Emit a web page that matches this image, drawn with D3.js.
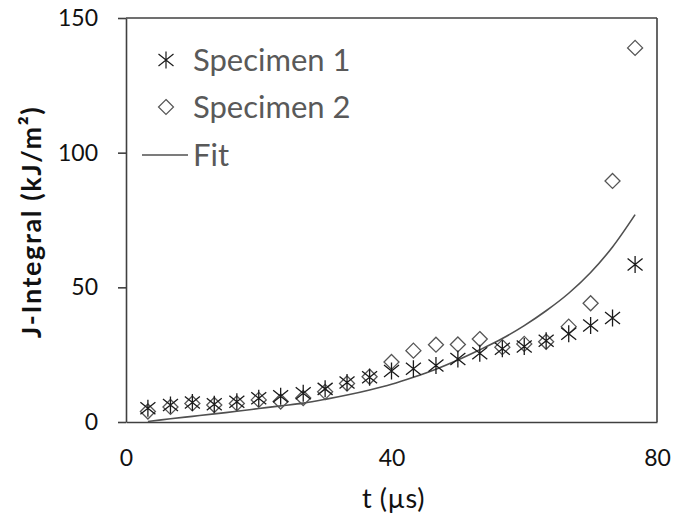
<!DOCTYPE html>
<html>
<head>
<meta charset="utf-8">
<script src="https://cdn.jsdelivr.net/npm/d3@7"></script>
<style>
  html, body { margin: 0; padding: 0; background: #fff; }
  svg { display: block; }
</style>
</head>
<body>
<script>
// ---- Data ----
const times = [3.3, 6.7, 10, 13.3, 16.7, 20, 23.3, 26.7, 30, 33.3, 36.7, 40,
               43.3, 46.7, 50, 53.3, 56.7, 60, 63.3, 66.7, 70, 73.3, 76.7];
const specimen1 = [5.1, 6.3, 7.2, 6.6, 7.5, 8.8, 9.6, 10.7, 12.3, 14.7, 16.6, 18.9,
                   19.8, 21.0, 23.4, 25.5, 27.2, 28.0, 30.2, 32.8, 35.8, 38.6, 58.5];
const specimen2 = [3.9, 5.6, 6.9, 6.3, 6.9, 8.2, 7.6, 8.9, 11.2, 14.3, 16.8, 22.3,
                   26.5, 28.7, 28.8, 30.8, 27.8, 29.0, 29.8, 35.4, 44.1, 89.5, 138.9];
const fitValues = [0.2, 1.2, 2.1, 3.0, 4.0, 5.0, 6.0, 7.0, 8.4, 10.0, 11.9, 14.0,
                   16.6, 19.6, 23.0, 26.8, 31.0, 35.8, 41.3, 47.8, 55.5, 65.0, 77.0];
const xTicks = [0, 40, 80];
const yTicks = [0, 50, 100, 150];
const legendLabels = ["Specimen 1", "Specimen 2", "Fit"];
const xTitle = "t (\u00b5s)";
const yTitle = "J-Integral (kJ/m\u00b2)";

// ---- Layout ----
const W = 677, H = 520;
const M = { left: 126, right: 20, top: 18, bottom: 98 };
const svg = d3.select("body").append("svg").attr("width", W).attr("height", H);

const x = d3.scaleLinear().domain([0, 80]).range([M.left, W - M.right]);
const y = d3.scaleLinear().domain([0, 150]).range([H - M.bottom, M.top]);

const axisColor = "#404040";
const font = "Lato, 'Open Sans', sans-serif";

// Frame (top and right)
svg.append("line").attr("x1", x(0)).attr("x2", x(80)).attr("y1", y(150)).attr("y2", y(150))
  .attr("stroke", axisColor).attr("stroke-width", 1.6);
svg.append("line").attr("x1", x(80)).attr("x2", x(80)).attr("y1", y(150)).attr("y2", y(0))
  .attr("stroke", axisColor).attr("stroke-width", 1.6);

// Y axis
const yAxis = d3.axisLeft(y).tickValues(yTicks).tickSizeInner(8).tickSizeOuter(0).tickPadding(20);
const gy = svg.append("g").attr("transform", `translate(${x(0)},0)`).call(yAxis);
gy.select(".domain").attr("stroke", axisColor).attr("stroke-width", 1.6);
gy.selectAll(".tick line").attr("stroke", axisColor).attr("stroke-width", 1.6);
gy.selectAll(".tick text").attr("font-family", font).attr("font-size", 23).attr("fill", "#111");

// X axis
const xAxis = d3.axisBottom(x).tickValues(xTicks).tickSize(0).tickPadding(28);
const gx = svg.append("g").attr("transform", `translate(0,${y(0)})`).call(xAxis);
gx.select(".domain").attr("stroke", axisColor).attr("stroke-width", 1.6);
gx.selectAll(".tick text").attr("font-family", font).attr("font-size", 23).attr("fill", "#111");

// Axis titles
svg.append("text").attr("x", (x(0) + x(80)) / 2 + 2).attr("y", 508)
  .attr("text-anchor", "middle").attr("font-family", font).attr("font-size", 27)
  .attr("letter-spacing", 0.6).attr("fill", "#111").text(xTitle);
svg.append("text").attr("transform", `translate(41,${(y(0) + y(150)) / 2 + 2}) rotate(-90)`)
  .attr("text-anchor", "middle").attr("font-family", font).attr("font-size", 27)
  .attr("letter-spacing", 1.6)
  .attr("font-weight", "bold").attr("fill", "#111").text(yTitle);

// Marker paths
const starPath = "M-7.5,-6L7.5,6M-7.5,6L7.5,-6M0,-8.5L0,8.5";
const diamondPath = "M0,-7.5L7.5,0L0,7.5L-7.5,0Z";

// Fit line
const line = d3.line().x((d, i) => x(times[i])).y(d => y(d)).curve(d3.curveCatmullRom.alpha(0.5));
svg.append("path").datum(fitValues).attr("d", line)
  .attr("fill", "none").attr("stroke", "#505050").attr("stroke-width", 1.6);

// Specimen 2 (diamonds)
svg.append("g").selectAll("path").data(specimen2).join("path")
  .attr("transform", (d, i) => `translate(${x(times[i])},${y(d)})`)
  .attr("d", diamondPath).attr("fill", "none").attr("stroke", "#555").attr("stroke-width", 1.3);

// Specimen 1 (stars)
svg.append("g").selectAll("path").data(specimen1).join("path")
  .attr("transform", (d, i) => `translate(${x(times[i])},${y(d)})`)
  .attr("d", starPath).attr("fill", "none").attr("stroke", "#1a1a1a").attr("stroke-width", 1.3);

// Legend
const legend = svg.append("g");
const legY = [60, 107, 155];
legend.append("path").attr("transform", `translate(166,${legY[0]})`).attr("d", starPath)
  .attr("fill", "none").attr("stroke", "#1a1a1a").attr("stroke-width", 1.2);
legend.append("path").attr("transform", `translate(166,${legY[1]})`).attr("d", diamondPath)
  .attr("fill", "none").attr("stroke", "#555").attr("stroke-width", 1.2);
legend.append("line").attr("x1", 142).attr("x2", 188).attr("y1", legY[2]).attr("y2", legY[2])
  .attr("stroke", "#505050").attr("stroke-width", 1.6);
legend.selectAll("text").data(legendLabels).join("text")
  .attr("x", 193).attr("y", (d, i) => legY[i]).attr("dy", "0.36em")
  .attr("font-family", font).attr("font-size", 31).attr("fill", "#595959").text(d => d);
</script>
</body>
</html>
